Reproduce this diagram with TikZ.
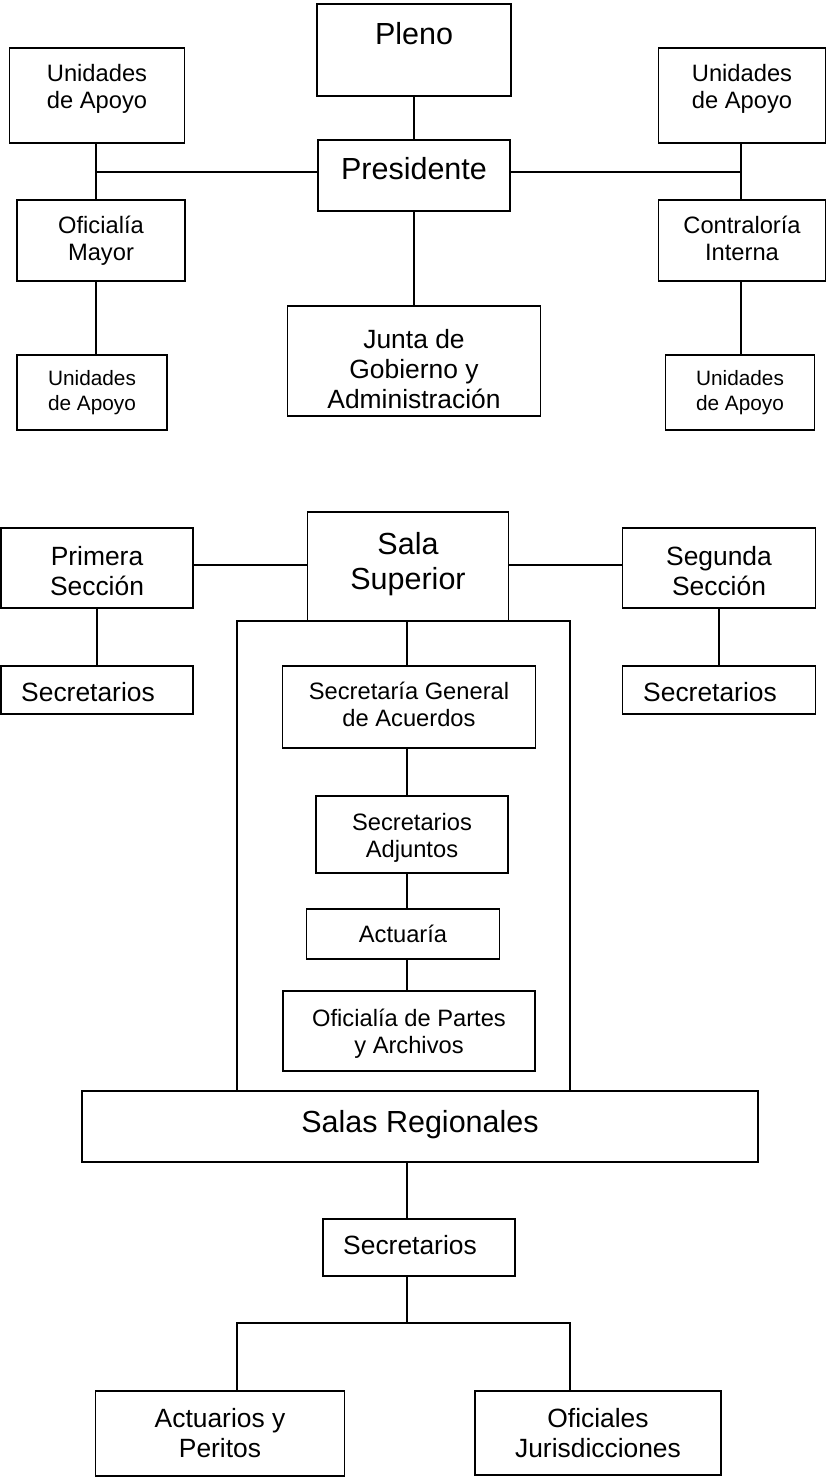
\documentclass[tikz,border=0pt]{standalone}
\usepackage{fontspec}
\setmainfont{Liberation Sans}
\begin{document}
\begin{tikzpicture}[x=1pt,y=-1pt,
  box/.style={draw,line width=1.7pt,anchor=north,align=center,inner ysep=0pt,inner xsep=2pt,outer sep=0pt},
  fbig/.style={font=\fontsize{30.5}{35}\selectfont},
  fmid/.style={font=\fontsize{26.4}{30}\selectfont},
  fsml/.style={font=\fontsize{23.7}{27}\selectfont},
  fxs/.style={font=\fontsize{20.8}{25}\selectfont},
  ln/.style={line width=1.5pt}]
\useasboundingbox (0,0) rectangle (828,1477);
% upper chart
\node[box,fbig,minimum width=194pt,text height=41pt,text depth=51pt] (pleno) at (414,4) {Pleno};
\node[box,fbig,minimum width=192pt,text height=39pt,text depth=32pt] (pres) at (414,140) {Presidente};
\node[box,fmid,minimum width=253pt,text height=102pt,text depth=8pt] (junta) at (414,306) {Junta de\\Gobierno y\\Administración};
\node[box,fsml,minimum width=175pt,text height=61pt,text depth=34pt] (ua1) at (97,48) {Unidades\\de Apoyo};
\node[box,fsml,minimum width=167pt,text height=61pt,text depth=34pt] (ua2) at (742,48) {Unidades\\de Apoyo};
\node[box,fsml,minimum width=168pt,text height=60pt,text depth=21pt] (om) at (101,200) {Oficialía\\Mayor};
\node[box,fsml,minimum width=167pt,text height=60pt,text depth=21pt] (ci) at (742,200) {Contraloría\\Interna};
\node[box,fxs,minimum width=150pt,text height=55pt,text depth=20pt] (ub1) at (92,355) {Unidades\\de Apoyo};
\node[box,fxs,minimum width=149pt,text height=55pt,text depth=20pt] (ub2) at (740,355) {Unidades\\de Apoyo};
\coordinate (jl) at (96,172);
\coordinate (jr) at (741,172);
\draw[ln] (pleno) -- (pres) -- (junta);
\draw[ln] (jl) -- (jl -| pres.west) (pres.east |- jr) -- (jr);
\draw[ln] (ua1.south -| jl) -- (om.north -| jl) (om.south -| jl) -- (ub1.north -| jl);
\draw[ln] (ua2.south -| jr) -- (ci.north -| jr) (ci.south -| jr) -- (ub2.north -| jr);
% lower chart
\node[box,fbig,minimum width=201pt,text height=77pt,text depth=32pt] (sala) at (408,512) {Sala\\Superior};
\node[box,fmid,minimum width=192pt,text height=67pt,text depth=13pt] (sec1) at (97,528) {Primera\\Sección};
\node[box,fmid,minimum width=193pt,text height=67pt,text depth=13pt] (sec2) at (719,528) {Segunda\\Sección};
\node[box,fmid,minimum width=192pt,text height=35pt,text depth=13pt] (secr1) at (97,666) {Secretarios\hspace*{18pt}};
\node[box,fmid,minimum width=193pt,text height=35pt,text depth=13pt] (secr2) at (719,666) {Secretarios\hspace*{18pt}};
\node[box,fsml,minimum width=253pt,text height=60pt,text depth=22pt] (sga) at (409,666) {Secretaría General\\de Acuerdos};
\node[box,fsml,minimum width=192pt,text height=61pt,text depth=16pt] (sadj) at (412,796) {Secretarios\\Adjuntos};
\node[box,fsml,minimum width=193pt,text height=33pt,text depth=17pt] (act) at (403,909) {Actuaría};
\node[box,fsml,minimum width=252pt,text height=62pt,text depth=18pt] (ofp) at (409,991) {Oficialía de Partes\\y Archivos};
\node[box,fbig,minimum width=676pt,text height=41pt,text depth=30pt] (salreg) at (420,1091) {Salas Regionales};
\node[box,fmid,minimum width=192pt,text height=35pt,text depth=22pt] (secr3) at (419,1219) {Secretarios\hspace*{18pt}};
\node[box,fmid,minimum width=249pt,text height=66pt,text depth=19pt] (actp) at (220,1391) {Actuarios y\\Peritos};
\node[box,fmid,minimum width=246pt,text height=66pt,text depth=18pt] (ofic) at (598,1391) {Oficiales\\Jurisdicciones};
\coordinate (sy) at (0,565);
\coordinate (cx) at (407,0);
\coordinate (fl) at (237,0);
\coordinate (fr) at (570,0);
\coordinate (br) at (407,1323);
\draw[ln] (sec1.east |- sy) -- (sala.west |- sy) (sala.east |- sy) -- (sec2.west |- sy);
\draw[ln] (sec1) -- (secr1) (sec2) -- (secr2);
\draw[ln] (fl |- salreg.north) -- (fl |- sala.south) -- (fr |- sala.south) -- (fr |- salreg.north);
\draw[ln] (sala.south -| cx) -- (sga.north -| cx) (sga.south -| cx) -- (sadj.north -| cx)
  (sadj.south -| cx) -- (act.north -| cx) (act.south -| cx) -- (ofp.north -| cx);
\draw[ln] (salreg.south -| cx) -- (secr3.north -| cx) (secr3.south -| cx) -- (br);
\draw[ln] (actp.north -| fl) -- (fl |- br) -- (fr |- br) -- (ofic.north -| fr);
\end{tikzpicture}
\end{document}
